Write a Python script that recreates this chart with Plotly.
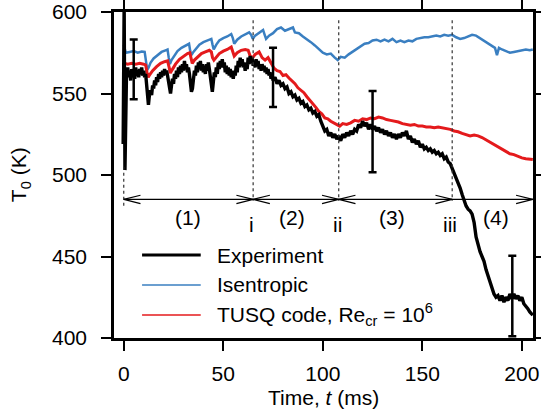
import plotly.graph_objects as go

# ---------------- data ----------------
iso_t = [0, 0.5, 1, 3, 5, 7, 9, 10.5, 11.3, 11.8, 12.5, 13.5, 15, 17, 19, 21, 22, 22.6, 23.2, 24,
         25.5, 27, 29, 31, 32.8, 33.4, 34, 35, 36.5, 38, 40, 42, 44, 44.6, 45.2, 46.5, 48, 50, 52, 54,
         54.8, 55.5, 57, 59, 61, 63, 64, 64.8, 66, 68, 70, 70.8, 71.5, 73, 75, 77, 79, 81, 83, 85,
         86, 88, 90, 92, 94, 96, 98, 100, 102, 104, 106, 107.5, 109, 111, 113, 115, 117, 119, 121, 123,
         125, 127, 129, 131, 133, 135, 137, 139, 141, 143, 145, 147, 149, 151, 153, 155, 157, 159, 161, 163,
         165, 167, 169, 171, 173, 175, 177, 179, 181, 183, 185, 186.5, 187.5, 188.5, 190, 192, 194, 196, 198, 200,
         202, 204, 205.5]
iso_T = [580, 576, 575, 575.5, 576, 575, 575.8, 575.5, 570, 564.5, 566, 569, 571.5, 573.5, 575.5, 576.5, 577, 572, 568, 570.5,
         573.5, 576, 578, 579.5, 580.5, 576, 573.5, 575.5, 578, 580, 581.5, 582.5, 583.5, 580, 577, 580, 582.5, 584, 585, 586.5,
         584, 580.5, 583, 585, 586.5, 587.5, 586, 583.5, 585.5, 587.5, 589, 586, 583.5, 585.5, 587, 589.5, 590.5, 588.5, 589.5, 590.5,
         587.5, 587, 585, 583.5, 581.5, 579.5, 577, 575, 574, 574.5, 572, 570.5, 572.5, 572, 574, 575.5, 577.5, 578.5, 580.5, 581,
         582.5, 583, 582, 583, 582, 583.5, 581.5, 582.5, 581.5, 582.5, 582, 583.5, 584, 584.5, 584.5, 585, 585.5, 585, 586, 585.5,
         586, 584.5, 583.5, 584, 585, 586, 585.5, 584, 582, 581, 579, 578, 573.5, 578, 577, 576, 575, 575.5, 576, 576.5,
         577, 576.5, 577]

tusq_t = [0, 0.5, 2, 4, 6, 8, 10, 11, 11.8, 12.3, 13, 14.5, 16.5, 18.5, 20.5, 22, 22.8, 23.4, 24.3, 26,
          28, 30, 32, 33.2, 33.8, 34.4, 35.5, 37, 39, 41, 43, 44, 44.6, 45.3, 46.5, 48, 50, 52, 54, 54.8,
          55.5, 57, 59, 61, 62.5, 63.5, 64.5, 66, 68, 69.5, 71, 72.5, 74, 75.5, 77, 78.5, 80, 81.5, 83, 84.5,
          86, 87.5, 89, 90.5, 92, 93.5, 95, 96.5, 98, 99.5, 101, 102.5, 104, 105.5, 107, 108.5, 110, 112, 114, 116,
          118, 120, 122, 124, 126, 128, 130, 132, 134, 136, 138, 140, 142, 144, 146, 148, 150, 152, 154, 156,
          158, 160, 162, 164, 166, 168, 170, 172, 174, 176, 178, 180, 182, 184, 186, 188, 190, 192, 194, 196,
          198, 200, 202, 204, 205.5]
tusq_T = [571, 568.5, 568, 568.5, 568, 568.5, 568, 567.5, 562, 560, 561.5, 564, 566.5, 568.5, 569.5, 570, 566, 562.5, 564.5, 568,
          571, 573, 574.5, 575, 571, 568.5, 570.5, 572.5, 574.5, 575.5, 576.5, 575.5, 572, 570.5, 572.5, 574.5, 576, 577, 578.5, 575.5,
          573, 575, 576.5, 577, 576.5, 573, 571.5, 574, 575.5, 572, 570.5, 572, 568.5, 565.5, 564, 563.5, 561, 561.5, 559.5, 558,
          556, 553.5, 552, 550.5, 548, 546, 543.5, 541.5, 539, 537.5, 535, 534.5, 533, 532, 531, 530, 531.5, 531, 532, 533.5,
          533, 534.5, 534, 535, 534.5, 535.5, 535, 534, 533.5, 533, 532.5, 531.5, 531, 530.5, 531, 530, 530, 529.5, 529.5, 529,
          529.5, 529, 528.5, 528, 527, 526.5, 525.5, 524.5, 524, 524.5, 524, 523, 521.5, 520, 518.5, 517, 515.5, 514, 513, 512.5,
          511.5, 510.5, 510, 509.5, 509.5]

exp_t = [-0.3, 0, 0.2, 0.6, 1.0, 1.4, 1.5, 2, 2.5, 3, 3.5, 4, 4.5, 5, 5.5, 6, 6.5, 7, 7.5, 8,
         8.5, 9, 9.5, 10, 10.5, 11, 11.5, 12, 12.4, 12.8, 13.3, 14, 14.5, 15, 15.5, 16, 16.5, 17, 17.5, 18,
         18.5, 19, 19.5, 20, 20.5, 21, 21.5, 22, 22.5, 23, 23.5, 24, 24.5, 25, 25.5, 26, 26.5, 27, 27.5, 28,
         28.5, 29, 29.5, 30, 30.5, 31, 31.5, 32, 32.5, 33, 33.5, 34, 34.5, 35, 35.5, 36, 36.5, 37, 37.5, 38,
         38.5, 39, 39.5, 40, 40.5, 41, 41.5, 42, 42.5, 43, 43.5, 44, 44.5, 45, 45.5, 46, 46.5, 47, 47.5, 48,
         48.5, 49, 49.5, 50, 50.5, 51, 51.5, 52, 52.5, 53, 53.5, 54, 54.5, 55, 55.5, 56, 56.5, 57, 57.5, 58,
         58.5, 59, 59.5, 60, 60.5, 61, 61.5, 62, 62.5, 63, 63.5, 64, 64.5, 65, 65.5, 66, 66.5, 67, 67.5, 68,
         68.5, 69, 69.5, 70, 70.5, 71, 71.5, 72, 72.5, 73, 73.5, 74, 74.5, 75, 76, 77, 78, 79, 80, 81,
         82, 83, 84, 85, 86, 87, 88, 89, 90, 91, 92, 93, 94, 95, 96, 97, 98, 99, 100, 101,
         102, 103, 104, 105, 106, 107, 108, 109, 110, 111, 112, 113, 114, 115, 116, 117, 118, 119, 120, 121,
         122, 123, 124, 125, 126, 127, 128, 129, 130, 131, 132, 133, 134, 135, 136, 137, 138, 139, 140, 141,
         142, 143, 144, 145, 146, 147, 148, 149, 150, 151, 152, 153, 154, 155, 156, 157, 158, 159, 160, 161,
         162, 163, 164, 165, 166, 167, 168, 169, 170, 171, 172, 173, 174, 175, 176, 177, 178, 179, 180, 181,
         182, 183, 184, 185, 186, 187, 188, 189, 190, 191, 192, 193, 194, 195, 196, 197, 198, 199, 200, 201,
         202, 203, 204, 205, 205.5]
exp_T = [519, 545, 605, 503, 540, 563, 562, 566, 560, 564, 558, 565, 561, 563, 559, 566, 562, 564, 560, 565,
         562, 566, 561, 564, 560, 562, 554, 545, 543, 548, 552, 549, 555, 553, 558, 555, 560, 557, 562, 559,
         563, 560, 564, 561, 565, 562, 564, 561, 558, 553, 550, 555, 559, 556, 562, 559, 564, 560, 566, 562,
         567, 563, 568, 564, 570, 565, 568, 563, 566, 562, 557, 551, 553, 560, 564, 561, 567, 563, 569, 565,
         570, 564, 568, 563, 567, 562, 568, 564, 569, 565, 560, 553, 551, 557, 563, 560, 566, 562, 569, 565,
         570, 566, 571, 566, 569, 563, 567, 562, 566, 561, 565, 560, 564, 559, 563, 561, 567, 563, 570, 566,
         572, 567, 571, 566, 569, 564, 568, 565, 572, 568, 573, 569, 572, 567, 570, 566, 571, 567, 570, 565,
         568, 564, 568, 565, 567, 563, 566, 562, 565, 561, 563, 559, 561, 558, 560, 556, 558, 555, 556, 553,
         554, 550, 551, 548, 549, 546, 547, 544, 545, 542, 543, 540, 541, 538, 539, 536, 537, 533, 530, 527,
         528, 524, 526, 523, 525, 522, 524, 521, 525, 523, 526, 524, 527, 525, 528, 527, 531, 529, 533, 530,
         532, 528, 531, 528, 530, 527, 529, 526, 528, 525, 527, 524, 526, 523, 525, 522, 525, 523, 526, 524,
         527, 522, 524, 520, 522, 519, 521, 517, 519, 516, 517, 515, 516, 514, 515, 513, 514, 512, 513, 510,
         511, 508, 507, 504, 502, 499, 496, 492, 488, 484, 481, 479, 478, 476, 471, 462, 457, 453, 450, 447,
         442, 438, 434, 430, 427, 425, 426, 423, 426, 422, 425, 423, 427, 424, 427, 424, 426, 423, 425, 421,
         419, 418, 416, 415, 414]

err_t = [5, 75, 125, 195.2]
err_c = [564.8, 559.9, 526.6, 425.7]
err_h = [18.4, 18.2, 24.9, 24.7]

region_bounds = [0, 65, 108, 165, 205.5]
divider_t = [0, 65, 108, 165]
divider_top = [505, 595, 595, 595]
divider_bot = [480, 484, 484, 484]
arrow_T = 485
left_heads = [0, 65, 108]
right_heads = [65, 108, 165, 205.5]

region_labels = ["(1)", "(2)", "(3)", "(4)"]
region_label_t = [32.5, 84.7, 134.7, 186.8]
marker_labels = ["i", "ii", "iii"]
marker_label_t = [64.4, 107.3, 163.7]

series_names = ["Experiment", "Isentropic", "TUSQ code, Re<sub>cr</sub> = 10<sup>6</sup>"]
series_colors = ["#000000", "#3a7fc1", "#e41a1c"]

x_ticks = [0, 50, 100, 150, 200]
y_ticks = [400, 450, 500, 550, 600]

FONT = "Liberation Sans, Arial, Helvetica, sans-serif"
FS = 21

fig = go.Figure()
fig.add_trace(go.Scatter(x=iso_t, y=iso_T, mode="lines", line=dict(color=series_colors[1], width=2.5),
                         name=series_names[1], showlegend=False))
fig.add_trace(go.Scatter(x=tusq_t, y=tusq_T, mode="lines", line=dict(color=series_colors[2], width=3),
                         name=series_names[2], showlegend=False))
fig.add_trace(go.Scatter(x=exp_t, y=exp_T, mode="lines", line=dict(color=series_colors[0], width=3.4),
                         name=series_names[0], showlegend=False))
fig.add_trace(go.Scatter(x=err_t, y=err_c, mode="markers", marker=dict(size=2, color="black", opacity=0),
                         error_y=dict(type="data", array=err_h, visible=True, color="black",
                                      thickness=2.5, width=4), showlegend=False, hoverinfo="skip"))

shapes = []
# dotted dividers
for t, y0, y1 in zip(divider_t, divider_top, divider_bot):
    shapes.append(dict(type="line", x0=t, x1=t, y0=y0, y1=y1, xref="x", yref="y",
                       line=dict(color="#333333", width=1.2, dash="dot")))
# horizontal arrow line
shapes.append(dict(type="line", x0=region_bounds[0], x1=region_bounds[-1], y0=arrow_T, y1=arrow_T,
                   xref="x", yref="y", line=dict(color="black", width=1.2)))
AH_X, AH_Y = 8.4, 2.6
for t in left_heads:
    for s in (1, -1):
        shapes.append(dict(type="line", x0=t, x1=t + AH_X, y0=arrow_T, y1=arrow_T + s * AH_Y,
                           xref="x", yref="y", line=dict(color="black", width=1.2)))
for t in right_heads:
    for s in (1, -1):
        shapes.append(dict(type="line", x0=t, x1=t - AH_X, y0=arrow_T, y1=arrow_T + s * AH_Y,
                           xref="x", yref="y", line=dict(color="black", width=1.2)))

annotations = []
for lab, t in zip(region_labels, region_label_t):
    annotations.append(dict(text=lab, x=t, y=474.2, xref="x", yref="y", showarrow=False,
                            font=dict(size=FS, color="black", family=FONT)))
for lab, t in zip(marker_labels, marker_label_t):
    annotations.append(dict(text=lab, x=t, y=469.8, xref="x", yref="y", showarrow=False,
                            font=dict(size=FS, color="black", family=FONT)))

# manual legend
leg_y = [0.2546, 0.1626, 0.0706]
leg_w = [3, 1.5, 1.5]
for name, col, y, w in zip(series_names, series_colors, leg_y, leg_w):
    shapes.append(dict(type="line", x0=0.067, x1=0.207, y0=y, y1=y, xref="paper", yref="paper",
                       line=dict(color=col, width=w)))
    annotations.append(dict(text=name, x=0.24, y=y, xref="paper", yref="paper", xanchor="left",
                            yanchor="middle", showarrow=False, font=dict(size=FS, color="black", family=FONT)))

# axis titles
annotations.append(dict(text="Time, <i>t</i> (ms)", x=0.5, y=-0.181, xref="paper", yref="paper",
                        xanchor="center", yanchor="middle", showarrow=False,
                        font=dict(size=FS, color="black", family=FONT)))
annotations.append(dict(text="T<sub>0</sub> (K)", x=-0.224, y=0.5, xref="paper", yref="paper",
                        xanchor="center", yanchor="middle", textangle=-90, showarrow=False,
                        font=dict(size=FS, color="black", family=FONT)))

axis_common = dict(showline=True, linewidth=2.5, linecolor="black", mirror="allticks",
                   ticks="outside", ticklen=10, tickwidth=1.5, tickcolor="black",
                   showgrid=False, zeroline=False, automargin=False,
                   tickfont=dict(size=FS, color="black", family=FONT))

fig.update_layout(
    width=541, height=414,
    margin=dict(l=114, r=8, t=12, b=76),
    paper_bgcolor="white", plot_bgcolor="white",
    showlegend=False,
    shapes=shapes, annotations=annotations,
    xaxis=dict(range=[-4.9, 205.6], tickvals=x_ticks, ticklabelstandoff=5, **axis_common),
    yaxis=dict(range=[400, 600], tickvals=y_ticks, ticklabelstandoff=10, **axis_common),
    font=dict(family=FONT, size=FS, color="black"),
)

fig.write_html("out.html")
